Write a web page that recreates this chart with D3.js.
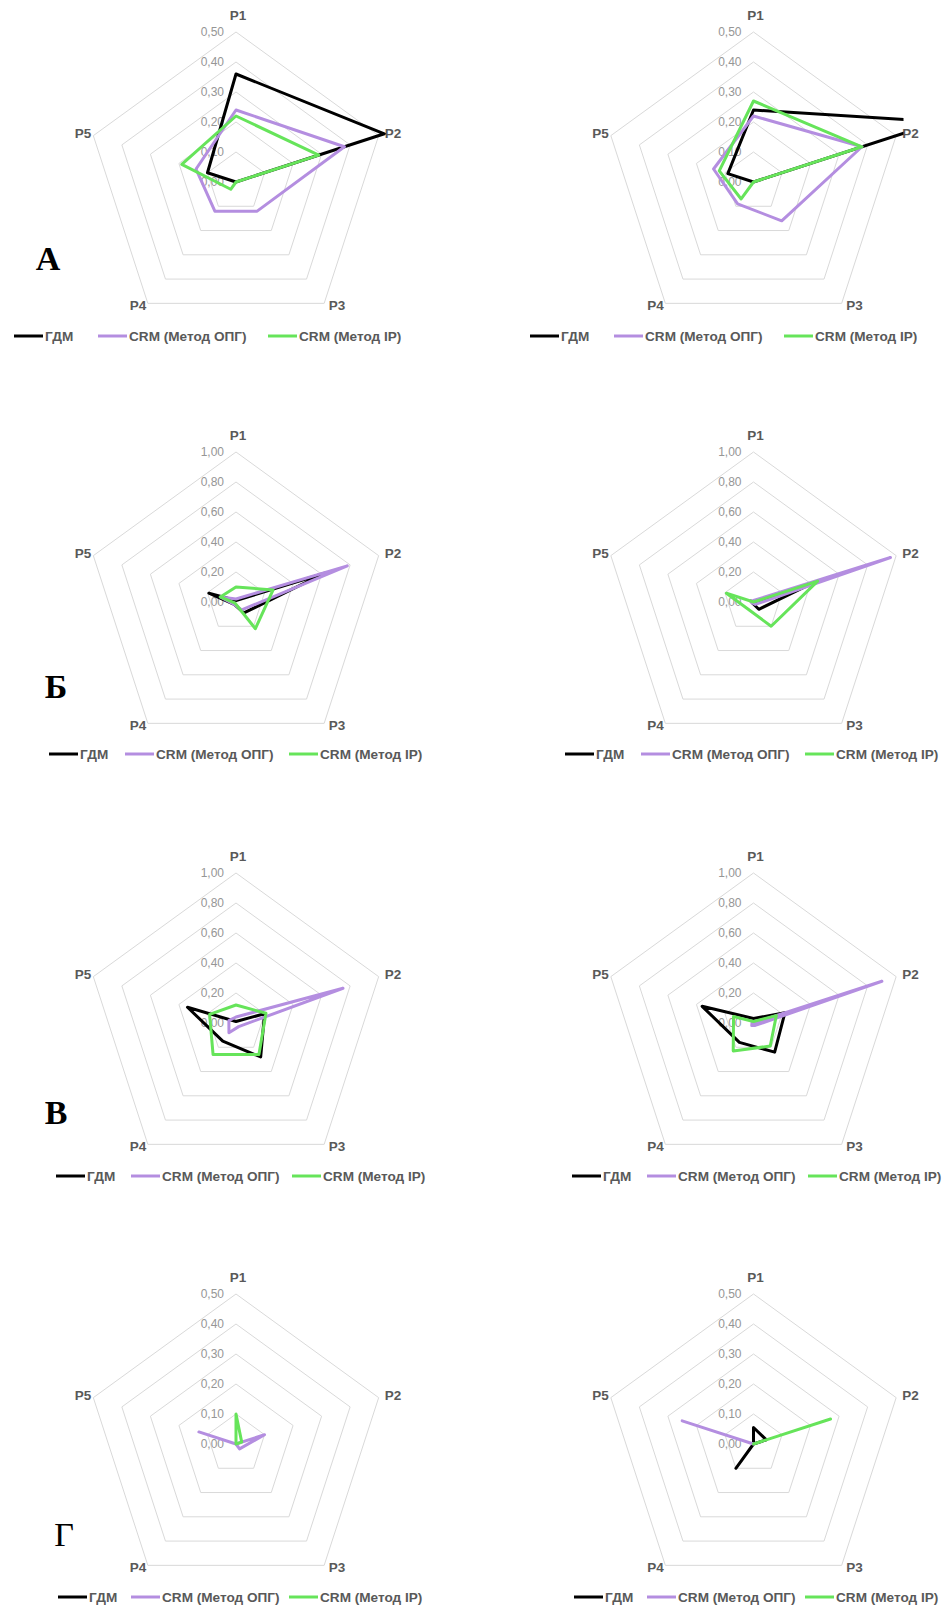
<!DOCTYPE html>
<html>
<head>
<meta charset="utf-8">
<script src="https://cdn.jsdelivr.net/npm/d3@7"></script>
<style>
body{margin:0;background:#fff;}
svg{display:block;font-family:"Liberation Sans",Arial,sans-serif;}
</style>
</head>
<body>
<svg id="chart" width="949" height="1609"></svg>
<script>
// ---- data ----
const axes = ["P1", "P2", "P3", "P4", "P5"];
const seriesNames = ["ГДМ", "CRM (Метод ОПГ)", "CRM (Метод IP)"];
const seriesColors = ["#000000", "#b48ee0", "#66e45a"];
const panelLetters = ["А", "Б", "В", "Г"];
const panelMax = [0.5, 1.0, 1.0, 0.5];
const ticksHalf = [0, 0.1, 0.2, 0.3, 0.4, 0.5];
const ticksOne = [0, 0.2, 0.4, 0.6, 0.8, 1.0];

// rows: А-left, А-right, Б-left, Б-right, В-left, В-right, Г-left, Г-right
const gdm = [
    [0.36, 0.52, 0.00, 0.00, 0.10],
    [0.24, 0.65, 0.00, 0.00, 0.09],
    [0.01, 0.62, 0.09, 0.02, 0.19],
    [0.00, 0.42, 0.06, 0.01, 0.02],
    [0.01, 0.20, 0.28, 0.15, 0.34],
    [0.03, 0.22, 0.24, 0.16, 0.36],
    [0.00, 0.00, 0.00, 0.00, 0.00],
    [0.055, 0.045, 0.00, 0.10, 0.00]
];
const opg = [
    [0.24, 0.38, 0.12, 0.12, 0.14],
    [0.22, 0.38, 0.16, 0.09, 0.14],
    [0.02, 0.78, 0.065, 0.02, 0.11],
    [0.01, 0.96, 0.02, 0.01, 0.02],
    [0.04, 0.75, 0.03, 0.08, 0.05],
    [0.00, 0.90, 0.02, 0.02, 0.01],
    [0.00, 0.10, 0.02, 0.00, 0.13],
    [0.00, 0.00, 0.00, 0.00, 0.25]
];
const ip = [
    [0.22, 0.29, 0.00, 0.03, 0.19],
    [0.27, 0.38, 0.00, 0.07, 0.12],
    [0.10, 0.26, 0.22, 0.01, 0.11],
    [0.00, 0.45, 0.20, 0.06, 0.19],
    [0.12, 0.21, 0.26, 0.26, 0.185],
    [0.01, 0.16, 0.19, 0.23, 0.14],
    [0.10, 0.02, 0.00, 0.00, 0.00],
    [0.00, 0.27, 0.00, 0.00, 0.00]
];

// ---- layout ----
const R = 150;
const colX = [236, 753.5];
const rowY = [182, 602, 1023, 1444];
const legendY = [336, 754, 1176, 1597];
const legendStarts = [[14, 98, 268], [49, 125, 289], [56, 131, 292], [58, 131, 289]];
const legendShift = 516;
const letterPos = [[48, 270], [56, 698], [56, 1124], [64, 1546]];
const labelOffsets = [[2, -167], [157, -49], [101, 123], [-98, 123], [-153, -49]];

const ruFormat = d3.formatLocale({decimal: ",", thousands: " ", grouping: [3], currency: ["", ""]}).format(".2f");
const svg = d3.select("#chart");
const angle = d3.scaleLinear().domain([0, axes.length]).range([0, 2 * Math.PI]);

function drawRadar(idx, row, col) {
    const cx = colX[col], cy = rowY[row];
    const max = panelMax[row];
    const ticks = max === 0.5 ? ticksHalf : ticksOne;
    const r = d3.scaleLinear().domain([0, max]).range([0, R]);
    const g = svg.append("g").attr("transform", `translate(${cx},${cy})`);

    // pentagon grid rings
    const ring = d3.lineRadial()
        .angle((d, i) => angle(i))
        .radius(d => r(d))
        .curve(d3.curveLinearClosed);
    g.selectAll(".ring")
        .data(ticks.filter(t => t > 0))
        .join("path")
        .attr("d", t => ring(axes.map(() => t)))
        .attr("fill", "none")
        .attr("stroke", "#d9d9d9")
        .attr("stroke-width", 1);

    // tick labels
    g.selectAll(".tick")
        .data(ticks)
        .join("text")
        .attr("x", -12)
        .attr("y", t => -r(t))
        .attr("dy", "0.35em")
        .attr("text-anchor", "end")
        .attr("font-size", "12px")
        .attr("fill", "#969696")
        .text(t => ruFormat(t));

    // axis names
    g.selectAll(".axis")
        .data(axes)
        .join("text")
        .attr("x", (d, i) => labelOffsets[i][0])
        .attr("y", (d, i) => labelOffsets[i][1])
        .attr("dy", "0.35em")
        .attr("text-anchor", "middle")
        .attr("font-size", "13.5px")
        .attr("font-weight", "bold")
        .attr("fill", "#595959")
        .text(d => d);

    // plot area clip
    const clipId = "clip" + idx;
    g.append("clipPath").attr("id", clipId)
        .append("rect")
        .attr("x", -R).attr("y", -R - 10)
        .attr("width", 2 * R).attr("height", 2 * R + 10);

    const series = [gdm[idx], opg[idx], ip[idx]];
    g.append("g").attr("clip-path", `url(#${clipId})`)
        .selectAll("path")
        .data(series)
        .join("path")
        .attr("d", d => ring.radius(v => r(v))(d))
        .attr("fill", "none")
        .attr("stroke", (d, i) => seriesColors[i])
        .attr("stroke-width", 3)
        .attr("stroke-linejoin", "round");

    // legend
    const lg = svg.append("g").attr("transform", `translate(${col * legendShift},${legendY[row]})`);
    const items = lg.selectAll("g")
        .data(seriesNames)
        .join("g")
        .attr("transform", (d, i) => `translate(${legendStarts[row][i]},0)`);
    items.append("line")
        .attr("x1", 0).attr("x2", 29)
        .attr("stroke", (d, i) => seriesColors[i])
        .attr("stroke-width", 3);
    items.append("text")
        .attr("x", 31)
        .attr("dy", "0.35em")
        .attr("font-size", "13.6px")
        .attr("font-weight", "bold")
        .attr("fill", "#595959")
        .text(d => d);
}

for (let row = 0; row < 4; row++) {
    for (let col = 0; col < 2; col++) {
        drawRadar(row * 2 + col, row, col);
    }
    svg.append("text")
        .attr("x", letterPos[row][0])
        .attr("y", letterPos[row][1])
        .attr("text-anchor", "middle")
        .attr("font-family", "'Liberation Serif','Times New Roman',serif")
        .attr("font-size", "34px")
        .attr("font-weight", row === 3 ? "normal" : "bold")
        .text(panelLetters[row]);
}
</script>
</body>
</html>
